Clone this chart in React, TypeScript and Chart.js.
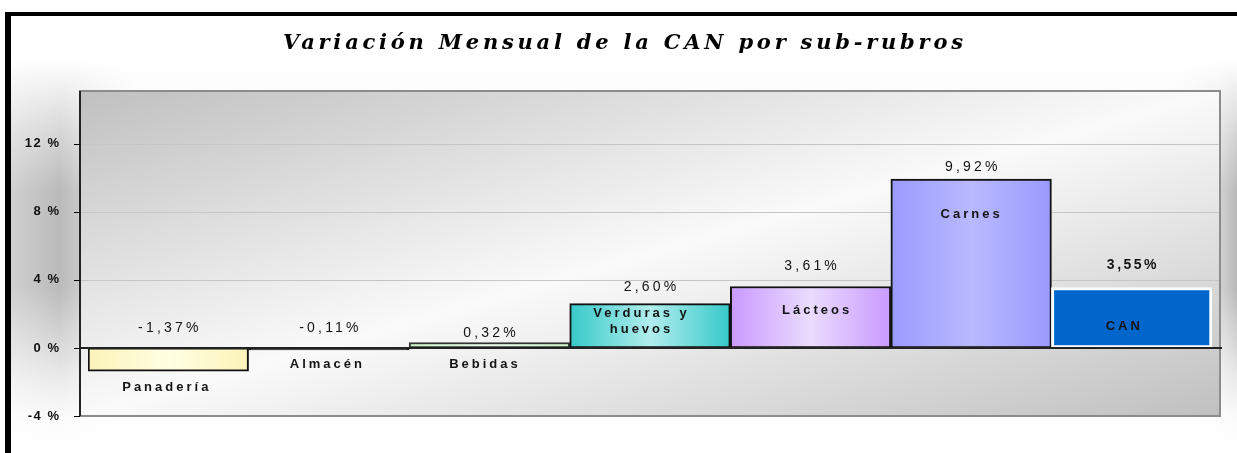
import React, { useEffect, useRef } from 'react';
import { Chart, registerables } from 'chart.js';

Chart.register(...registerables);

// ---- data ----
const categories: (string | string[])[] = ['Panadería', 'Almacén', 'Bebidas', ['Verduras y', 'huevos'], 'Lácteos', 'Carnes', 'CAN'];
const values = [-1.37, -0.11, 0.32, 2.6, 3.61, 9.92, 3.55];
const yTickValues = [-4, 0, 4, 8, 12];
const yMin = -4;
const yMax = 15.1;
const titleText = 'Variación Mensual de la CAN por sub-rubros';

// ---- styles ----
const edgeColors = ['#fcf3b9', '#3a3a3a', '#c6f7c6', '#36c9c9', '#c999ff', '#9a9aff', '#0066cc'];
const centerColors = ['#ffffe2', '#555555', '#ecffec', '#b2eded', '#eadcff', '#b9b9ff', '#0066cc'];
const borderColors = ['#111111', '#111111', '#333333', '#111111', '#111111', '#111111', '#ffffff'];
const borderWidths = [2, 2, 2, 2, 2, 2, 3];
const valueLabelGap = [20, 20, 9, 17, 20, 12, 22];
const valueLabelBold = [false, false, false, false, false, false, true];
const categoryLabelDy = [16, 15, 22, 10, 24, 35, 39];
const categoryLabelDx = [-3, -3, -6, -10, 5, -1, -9];

function drawSpaced(ctx: CanvasRenderingContext2D, text: string, cx: number, cy: number, spacing: number) {
  ctx.letterSpacing = '0px';
  const w0 = ctx.measureText(text).width;
  const n = Array.from(text).length;
  const vw = w0 + (n - 1) * spacing;
  ctx.letterSpacing = spacing + 'px';
  ctx.textAlign = 'left';
  ctx.textBaseline = 'middle';
  ctx.fillText(text, cx - vw / 2, cy);
  ctx.letterSpacing = '0px';
}

const decorPlugin = {
  id: 'decor',
  beforeDraw(chart: any) {
    const { ctx, width, height } = chart;
    const area = chart.chartArea;
    const pl = area.left - 8;
    const pr = area.right + 8;
    const pt = area.top;
    const pb = area.bottom;
    ctx.save();
    // page
    ctx.fillStyle = '#ffffff';
    ctx.fillRect(0, 0, width, height);
    // frame
    ctx.fillStyle = '#000000';
    ctx.fillRect(5, 12, width - 5, height - 12);
    const ix = 11;
    const iy = 16;
    const hg = ctx.createLinearGradient(ix, 0, width, 0);
    hg.addColorStop(0, '#d0d0d0');
    hg.addColorStop(0.04, '#bababa');
    hg.addColorStop(0.1, '#f4f4f4');
    hg.addColorStop(0.95, '#f4f4f4');
    hg.addColorStop(0.985, '#d4d4d4');
    hg.addColorStop(1, '#b8b8b8');
    ctx.fillStyle = hg;
    ctx.fillRect(ix, iy, width - ix, height - iy);
    const vg = ctx.createLinearGradient(0, iy, 0, height);
    vg.addColorStop(0, 'rgba(255,255,255,1)');
    vg.addColorStop(0.1, 'rgba(255,255,255,1)');
    vg.addColorStop(0.27, 'rgba(255,255,255,0.4)');
    vg.addColorStop(0.4, 'rgba(255,255,255,0)');
    vg.addColorStop(0.62, 'rgba(255,255,255,0)');
    vg.addColorStop(0.83, 'rgba(255,255,255,0.7)');
    vg.addColorStop(0.92, 'rgba(255,255,255,0.95)');
    vg.addColorStop(1, 'rgba(255,255,255,1)');
    ctx.fillStyle = vg;
    ctx.fillRect(ix, iy, width - ix, height - iy);

    // plot background: diagonal gradient (gray TL & BR, light across the anti-diagonal)
    const w = pr - pl;
    const h = pb - pt;
    const cxp = (pl + pr) / 2;
    const cyp = (pt + pb) / 2;
    const len = Math.sqrt(w * w + h * h);
    const ux = h / len;
    const uy = w / len;
    const half = (w / 2) * ux + (h / 2) * uy;
    const pg = ctx.createLinearGradient(cxp - half * ux, cyp - half * uy, cxp + half * ux, cyp + half * uy);
    pg.addColorStop(0, '#c0c0c0');
    pg.addColorStop(0.5, '#fafafa');
    pg.addColorStop(1, '#c0c0c0');
    ctx.fillStyle = pg;
    ctx.fillRect(pl, pt, w, h);

    // grid lines
    const ys = chart.scales.y;
    ctx.strokeStyle = '#c6c6c6';
    ctx.lineWidth = 1;
    for (const v of yTickValues) {
      if (v === 0 || v === yMin) continue;
      const py = Math.round(ys.getPixelForValue(v)) + 0.5;
      ctx.beginPath();
      ctx.moveTo(pl, py);
      ctx.lineTo(pr, py);
      ctx.stroke();
    }
    // plot border
    ctx.strokeStyle = '#8c8c8c';
    ctx.lineWidth = 2;
    ctx.strokeRect(pl, pt, w, h);

    // title
    ctx.fillStyle = '#000000';
    ctx.font = 'italic bold 21px "DejaVu Serif"';
    ctx.letterSpacing = '0px';
    const tw0 = ctx.measureText(titleText).width;
    const tn = Array.from(titleText).length;
    const targetW = 680;
    const sp = (targetW - tw0) / (tn - 1);
    ctx.letterSpacing = sp + 'px';
    ctx.textAlign = 'left';
    ctx.textBaseline = 'middle';
    ctx.fillText(titleText, 623 - targetW / 2, 44);
    ctx.restore();
    // letter spacing for the y tick labels drawn next by Chart.js
    ctx.letterSpacing = '1.5px';
  },
  afterDatasetsDraw(chart: any) {
    const { ctx } = chart;
    ctx.letterSpacing = '0px';
    const area = chart.chartArea;
    const pl = area.left - 8;
    const pr = area.right + 8;
    const ys = chart.scales.y;
    const xs = chart.scales.x;
    ctx.save();
    // y axis line
    ctx.strokeStyle = '#000000';
    ctx.lineWidth = 1.5;
    ctx.beginPath();
    ctx.moveTo(pl, area.top);
    ctx.lineTo(pl, area.bottom);
    ctx.stroke();
    // tick marks
    ctx.lineWidth = 1;
    for (const v of yTickValues) {
      const py = Math.round(ys.getPixelForValue(v)) + 0.5;
      ctx.beginPath();
      ctx.moveTo(pl - 6, py);
      ctx.lineTo(pl, py);
      ctx.stroke();
    }
    // zero line
    const y0 = ys.getPixelForValue(0);
    ctx.strokeStyle = '#222222';
    ctx.lineWidth = 2;
    ctx.beginPath();
    ctx.moveTo(pl, y0);
    ctx.lineTo(pr + 2, y0);
    ctx.stroke();

    // labels
    ctx.fillStyle = '#141414';
    values.forEach((v, i) => {
      const cx = xs.getPixelForValue(i);
      const yEnd = ys.getPixelForValue(v);
      const yUp = ys.getPixelForValue(Math.max(v, 0));
      // value label
      ctx.font = (valueLabelBold[i] ? 'bold ' : '') + '14px "Liberation Sans"';
      const txt = v.toFixed(2).replace('.', ',') + '%';
      drawSpaced(ctx, txt, cx, yUp - valueLabelGap[i], valueLabelBold[i] ? 2.5 : 3.2);
      // category label
      ctx.font = 'bold 13px "Liberation Sans"';
      const lab = categories[i];
      const lines = Array.isArray(lab) ? lab : [lab];
      let ly = yEnd + categoryLabelDy[i];
      lines.forEach((ln) => {
        drawSpaced(ctx, ln, cx + categoryLabelDx[i], ly, 3);
        ly += 16;
      });
    });
    ctx.restore();
  },
  afterDraw(chart: any) {
    chart.ctx.letterSpacing = '0px';
  },
};

export default function App() {
  const ref = useRef<HTMLCanvasElement>(null);
  useEffect(() => {
    const canvas = ref.current!;
    const chart = new Chart(canvas, {
      type: 'bar',
      data: {
        labels: categories as any,
        datasets: [
          {
            data: values,
            backgroundColor: (c: any) => {
              const i = c.dataIndex;
              const chart = c.chart;
              const area = chart.chartArea;
              if (!area || i === undefined || !chart.scales.x) return edgeColors[i ?? 0];
              const xs = chart.scales.x;
              const cx = xs.getPixelForValue(i);
              const half = (area.right - area.left) / categories.length / 2;
              const g = chart.ctx.createLinearGradient(cx - half, 0, cx + half, 0);
              g.addColorStop(0, edgeColors[i]);
              g.addColorStop(0.5, centerColors[i]);
              g.addColorStop(1, edgeColors[i]);
              return g;
            },
            borderColor: borderColors,
            borderWidth: borderWidths,
            borderSkipped: false,
            barPercentage: 1,
            categoryPercentage: 1,
          } as any,
        ],
      },
      options: {
        animation: false,
        responsive: false,
        devicePixelRatio: 1,
        layout: { padding: { left: 0, right: 25, top: 91, bottom: 37 } },
        plugins: {
          legend: { display: false },
          title: { display: false },
          tooltip: { enabled: false },
        },
        scales: {
          x: {
            type: 'category',
            display: false,
            offset: true,
          },
          y: {
            min: yMin,
            max: yMax,
            grid: { display: false, drawTicks: false },
            border: { display: false },
            afterBuildTicks: (scale: any) => {
              scale.ticks = yTickValues.map((v) => ({ value: v }));
            },
            afterFit: (scale: any) => {
              scale.width = 88;
            },
            ticks: {
              padding: 27.5,
              color: '#111111',
              font: { family: '"Liberation Sans"', weight: 'bold', size: 13 },
              callback: (v: any) => `${v} %`,
            },
          },
        },
      },
      plugins: [decorPlugin],
    });
    return () => chart.destroy();
  }, []);
  return (
    <div style={{ position: 'absolute', left: 0, top: 0, width: 1237, height: 453, overflow: 'hidden' }}>
      <canvas ref={ref} width={1237} height={453} style={{ display: 'block', width: 1237, height: 453 }} />
    </div>
  );
}
